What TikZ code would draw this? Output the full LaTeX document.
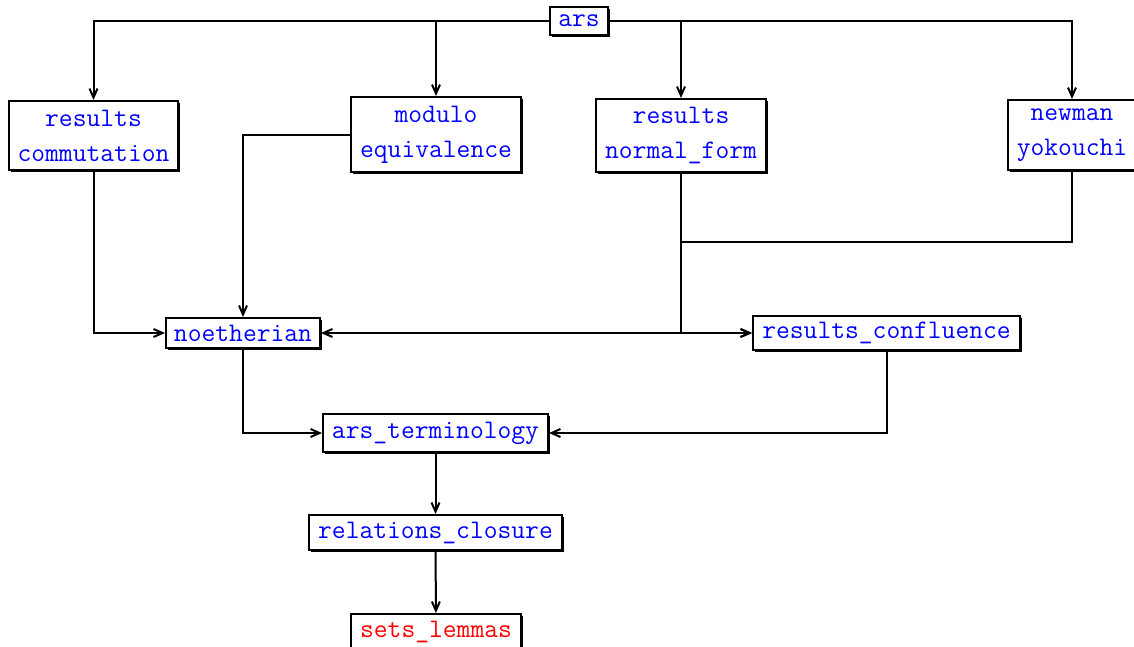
\documentclass[tikz,border=0pt]{standalone}
\usetikzlibrary{arrows.meta,shadows}
\definecolor{nodeblue}{RGB}{0,0,255}
\definecolor{nodered}{RGB}{255,0,0}
\begin{document}
\begin{tikzpicture}[x=0.5pt,y=-0.5pt,
  box/.style={draw=black, line width=1pt, fill=white, inner sep=0pt, align=center,
    font=\ttfamily\fontsize{13.4}{17.5}\selectfont, text=nodeblue,
    drop shadow={shadow xshift=0.8pt,shadow yshift=-0.8pt,fill=black,opacity=1}},
  arr/.style={-{Straight Barb[length=4.5pt,width=4pt]}, line width=1pt}]
\useasboundingbox (0,0) rectangle (1134,647);
\node[box, minimum width=29pt, minimum height=14pt] (ars) at (579,21) {ars};
\node[box, minimum width=84.5pt, minimum height=34.5pt] (rc) at (93.5,135.5) {results\\commutation};
\node[box, minimum width=85pt, minimum height=37.5pt] (mod) at (436,134.5) {modulo\\equivalence};
\node[box, minimum width=85pt, minimum height=36.5pt] (nf) at (681,135.5) {results\\normal\_form};
\node[box, minimum width=64pt, minimum height=35pt] (ny) at (1072,135) {newman\\yokouchi};
\node[box, minimum width=77pt, minimum height=15pt] (noe) at (243,333) {noetherian};
\node[box, minimum width=133.5pt, minimum height=17pt] (conf) at (886.5,333) {results\_confluence};
\node[box, minimum width=112.5pt, minimum height=19pt] (term) at (435.5,433) {ars\_terminology};
\node[box, minimum width=126.5pt, minimum height=17.5pt] (clos) at (435.5,532.5) {relations\_closure};
\node[box, minimum width=85pt, minimum height=18pt, text=nodered] (sets) at (436,632) {sets\_lemmas};
\coordinate (j) at (681,242);
\draw[arr] (ars.west) -| (rc.north);
\draw[arr] (ars.west) -| (mod.north);
\draw[arr] (ars.east) -| (nf.north);
\draw[arr] (ars.east) -| (ny.north);
\draw[arr] (rc.south) |- (noe.west);
\draw[arr] (mod.west) -| (noe.north);
\draw[arr] (nf.south) |- (noe.east);
\draw[arr] (nf.south) |- (conf.west);
\draw[arr] (ny.south) |- (j) |- (conf.west);
\draw[arr] (noe.south) |- (term.west);
\draw[arr] (conf.south) |- (term.east);
\draw[arr] (term) -- (clos);
\draw[arr] (clos) -- (sets);
\end{tikzpicture}
\end{document}
